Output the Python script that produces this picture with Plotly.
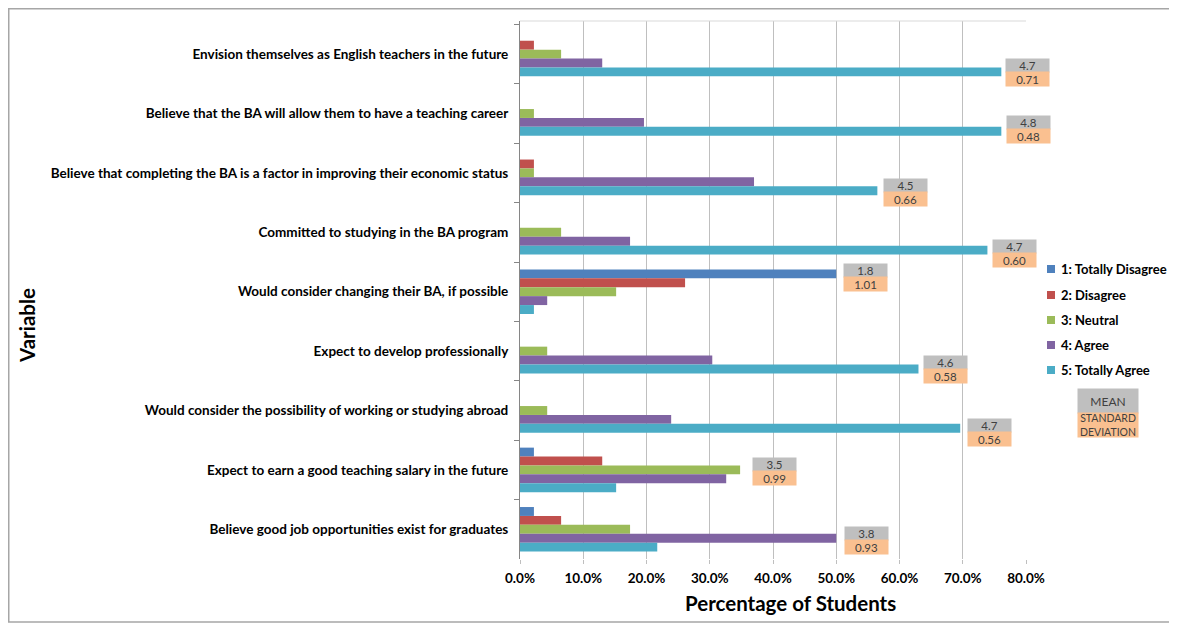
import plotly.graph_objects as go

categories = [
    "Envision themselves as English teachers in the future",
    "Believe that the BA will allow them to have a teaching career",
    "Believe that completing the BA is a factor in improving their economic status",
    "Committed to studying in the BA program",
    "Would consider changing their BA, if possible",
    "Expect to develop professionally",
    "Would consider the possibility of working or studying abroad",
    "Expect to earn a good teaching salary in the future",
    "Believe good job opportunities exist for graduates",
]
series_names = ["1: Totally Disagree", "2: Disagree", "3: Neutral", "4: Agree", "5: Totally Agree"]
totally_disagree = [0, 0, 0, 0, 50.0, 0, 0, 2.2, 2.2]
disagree = [2.2, 0, 2.2, 0, 26.1, 0, 0, 13.0, 6.5]
neutral = [6.5, 2.2, 2.2, 6.5, 15.2, 4.3, 4.3, 34.8, 17.4]
agree = [13.0, 19.6, 37.0, 17.4, 4.3, 30.4, 23.9, 32.6, 50.0]
totally_agree = [76.1, 76.1, 56.5, 73.9, 2.2, 63.0, 69.6, 15.2, 21.7]
means = ["4.7", "4.8", "4.5", "4.7", "1.8", "4.6", "4.7", "3.5", "3.8"]
std_devs = ["0.71", "0.48", "0.66", "0.60", "1.01", "0.58", "0.56", "0.99", "0.93"]
x_ticks = [0, 10, 20, 30, 40, 50, 60, 70, 80]

colors = ["#4F81BD", "#C0504D", "#9BBB59", "#8064A2", "#4BACC6"]
series = [totally_disagree, disagree, neutral, agree, totally_agree]

# layout / styling parameters for the mean/SD boxes (pixels)
box_gap_px = [4, 5, 6, 5, 6.5, 5, 7, 12, 8]
box_drop_px = [11.6, 8.8, 12.5, 13.7, -21.6, 11.6, 14.8, -5, 4.2]
legend_rows_px = [269, 295, 320, 345, 370]

FONT = "Lato"
OFF = 8  # page body margin
W, H = 1169, 620
L, R, T, B = 512, 151, 13, 69
pw, ph = W - L - R, H - T - B

def px_x(p):  # screen pixel -> paper
    return (p - OFF - L) / pw

def px_y(p):
    return (H - B - (p - OFF)) / ph

fig = go.Figure()
for name, vals, col in zip(series_names, series, colors):
    fig.add_trace(go.Bar(
        y=categories, x=vals, name=name, orientation="h",
        marker=dict(color=col, line=dict(width=0)),
        showlegend=False,
    ))

annotations = []
shapes = []
for i, cat in enumerate(categories):
    xmax = max(s[i] for s in series)
    annotations.append(dict(
        x=xmax, y=cat, xref="x", yref="y", xanchor="left", yanchor="middle",
        xshift=box_gap_px[i], yshift=-box_drop_px[i],
        text=means[i], showarrow=False, width=43, height=13, borderpad=0,
        bgcolor="#BFBFBF", font=dict(family=FONT, size=11.5, color="#404040"),
    ))
    annotations.append(dict(
        x=xmax, y=cat, xref="x", yref="y", xanchor="left", yanchor="middle",
        xshift=box_gap_px[i], yshift=-(box_drop_px[i] + 13.5),
        text=std_devs[i], showarrow=False, width=43, height=14, borderpad=0,
        bgcolor="#FAC090", font=dict(family=FONT, size=11.5, color="#404040"),
    ))

# legend (swatch + label per series)
for name, col, yc in zip(series_names, colors, legend_rows_px):
    shapes.append(dict(
        type="rect", xref="paper", yref="paper",
        x0=px_x(1047), x1=px_x(1055), y0=px_y(yc + 4), y1=px_y(yc - 4),
        fillcolor=col, line=dict(width=0),
    ))
    annotations.append(dict(
        x=px_x(1059), y=px_y(yc), xref="paper", yref="paper",
        xanchor="left", yanchor="middle", text=name, showarrow=False,
        font=dict(family=FONT, size=13, color="#000000", weight="bold"),
    ))

# legend key box for MEAN / STANDARD DEVIATION
annotations.append(dict(
    x=px_x(1108), y=px_y(401), xref="paper", yref="paper",
    xanchor="center", yanchor="middle",
    text="MEAN", showarrow=False, width=60, height=24, borderpad=0,
    bgcolor="#BFBFBF", font=dict(family=FONT, size=12, color="#404040"),
))
annotations.append(dict(
    x=px_x(1108), y=px_y(425), xref="paper", yref="paper",
    xanchor="center", yanchor="middle",
    text="STANDARD<br>DEVIATION", showarrow=False, width=60, height=24, borderpad=0,
    bgcolor="#FAC090", font=dict(family=FONT, size=10.5, color="#404040"),
))
# axis titles
annotations.append(dict(
    x=px_x(790), y=px_y(603), xref="paper", yref="paper",
    xanchor="center", yanchor="middle",
    text="Percentage of Students", showarrow=False,
    font=dict(family=FONT, size=20.5, color="#000000", weight="bold"),
))
annotations.append(dict(
    x=px_x(27), y=px_y(326), xref="paper", yref="paper",
    xanchor="center", yanchor="middle",
    text="Variable", showarrow=False, textangle=-90,
    font=dict(family=FONT, size=20.5, color="#000000", weight="bold"),
))

shapes += [
    dict(type="rect", xref="paper", yref="paper",
         x0=px_x(OFF + 0.75), x1=px_x(1200), y0=px_y(622), y1=px_y(OFF + 0.75),
         line=dict(color="#A6A6A6", width=1.5), fillcolor="rgba(0,0,0,0)", layer="below"),
    dict(type="line", xref="paper", yref="paper",
         x0=0, x1=1, y0=1, y1=1, line=dict(color="#D9D9D9", width=1)),
]

fig.update_layout(
    width=W, height=H,
    margin=dict(l=L, r=R, t=T, b=B, autoexpand=False),
    paper_bgcolor="white", plot_bgcolor="white",
    barmode="group", bargap=0.25, bargroupgap=0,
    font=dict(family=FONT, size=13.5, color="#000000"),
    showlegend=False,
    annotations=annotations,
    shapes=shapes,
)
fig.update_xaxes(
    range=[0, 80], tickvals=x_ticks, ticktext=[f"{v:.1f}%" for v in x_ticks],
    showgrid=True, gridcolor="#BFBFBF", gridwidth=1,
    zeroline=False, showline=False,
    ticks="outside", ticklen=4, tickcolor="#BFBFBF",
    tickfont=dict(family=FONT, size=13.5, color="#000000", weight="bold"),
    ticklabelstandoff=3,
    fixedrange=True,
)
fig.update_yaxes(
    autorange="reversed", type="category",
    showline=True, linecolor="#868686", linewidth=1,
    ticks="outside", ticklen=5, tickcolor="#868686", tickson="boundaries",
    showgrid=False,
    tickfont=dict(family=FONT, size=13.5, color="#000000", weight="bold"),
    ticklabelstandoff=8,
    fixedrange=True,
)

fig.write_html("out.html")
